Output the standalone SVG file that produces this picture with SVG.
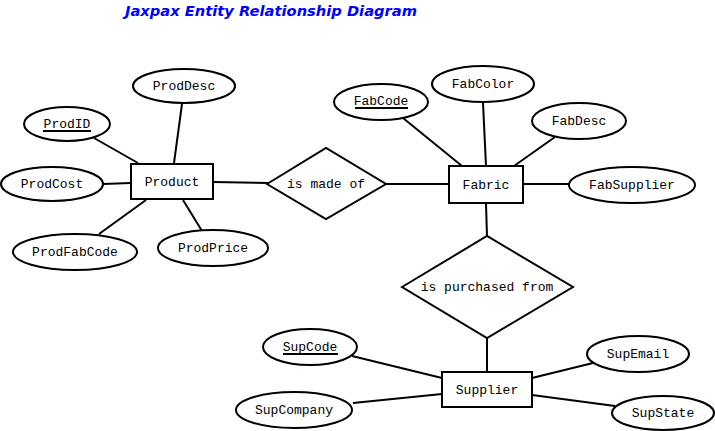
<svg xmlns="http://www.w3.org/2000/svg" width="715" height="431" viewBox="0 0 715 431">
<style>
.e{fill:#fff;stroke:#000;stroke-width:2}
.r{fill:#fff;stroke:#000;stroke-width:2}
.d{fill:#fff;stroke:#000;stroke-width:2}
.t{font-family:"Liberation Mono","Courier New",monospace;font-size:13px;fill:#000;text-anchor:middle}
.u{stroke:#000;stroke-width:2}
#connectors line{stroke:#000;stroke-width:2}
.title{font-family:"DejaVu Sans",Verdana,sans-serif;font-size:14px;font-weight:bold;font-style:italic;fill:#0000ff}
</style>
<rect width="715" height="431" fill="#fff"/>
<text class="title" x="125" y="16" textLength="292" lengthAdjust="spacingAndGlyphs">Jaxpax Entity Relationship Diagram</text>
<g id="connectors">
<line x1="182" y1="104" x2="174" y2="163"/>
<line x1="94" y1="138" x2="138" y2="163"/>
<line x1="103" y1="184" x2="131" y2="183"/>
<line x1="99" y1="234" x2="146" y2="200"/>
<line x1="202" y1="231" x2="183" y2="200"/>
<line x1="213" y1="182" x2="268" y2="183"/>
<line x1="386" y1="184" x2="449" y2="184"/>
<line x1="403" y1="118" x2="462" y2="166"/>
<line x1="483" y1="103" x2="486" y2="166"/>
<line x1="555" y1="137" x2="514" y2="166"/>
<line x1="523" y1="184" x2="569" y2="184"/>
<line x1="486" y1="203" x2="487" y2="237"/>
<line x1="487" y1="338" x2="487" y2="372"/>
<line x1="352" y1="356" x2="442" y2="378"/>
<line x1="353" y1="403" x2="442" y2="394"/>
<line x1="593" y1="363" x2="532" y2="378"/>
<line x1="615" y1="406" x2="532" y2="395"/>
</g>
<g id="Product"><rect class="r" x="131" y="164" width="82" height="35"/><text class="t" x="172" y="186">Product</text></g>
<g id="ProdDesc"><ellipse class="e" cx="184" cy="86" rx="51" ry="17"/><text class="t" x="184" y="90">ProdDesc</text></g>
<g id="ProdID"><ellipse class="e" cx="67" cy="124" rx="43" ry="17"/><text class="t" x="67" y="128">ProdID</text><line class="u" x1="43" y1="131" x2="91" y2="131"/></g>
<g id="ProdCost"><ellipse class="e" cx="52" cy="184" rx="51" ry="17"/><text class="t" x="52" y="188">ProdCost</text></g>
<g id="ProdFabCode"><ellipse class="e" cx="75" cy="252" rx="62" ry="18"/><text class="t" x="75" y="256">ProdFabCode</text></g>
<g id="ProdPrice"><ellipse class="e" cx="213" cy="248" rx="55" ry="18"/><text class="t" x="213" y="252">ProdPrice</text></g>
<g id="isMadeOf"><polygon class="d" points="267,184 326,148 386,184 326,219"/><text class="t" x="326" y="188">is made of</text></g>
<g id="Fabric"><rect class="r" x="449" y="166" width="74" height="37"/><text class="t" x="486" y="189">Fabric</text></g>
<g id="FabCode"><ellipse class="e" cx="381" cy="102" rx="47" ry="18"/><text class="t" x="381" y="105">FabCode</text><line class="u" x1="355" y1="108" x2="408" y2="108"/></g>
<g id="FabColor"><ellipse class="e" cx="483" cy="84" rx="51" ry="18"/><text class="t" x="483" y="88">FabColor</text></g>
<g id="FabDesc"><ellipse class="e" cx="579" cy="121" rx="47" ry="18"/><text class="t" x="579" y="125">FabDesc</text></g>
<g id="FabSupplier"><ellipse class="e" cx="632" cy="185" rx="63" ry="18"/><text class="t" x="632" y="189">FabSupplier</text></g>
<g id="isPurchasedFrom"><polygon class="d" points="402,287 487,236 573,287 487,338"/><text class="t" x="487" y="291">is purchased from</text></g>
<g id="Supplier"><rect class="r" x="442" y="372" width="90" height="35"/><text class="t" x="487" y="394">Supplier</text></g>
<g id="SupCode"><ellipse class="e" cx="310" cy="347" rx="47" ry="18"/><text class="t" x="310" y="351">SupCode</text><line class="u" x1="283" y1="354" x2="338" y2="354"/></g>
<g id="SupCompany"><ellipse class="e" cx="294" cy="410" rx="58" ry="18"/><text class="t" x="294" y="414">SupCompany</text></g>
<g id="SupEmail"><ellipse class="e" cx="638" cy="354" rx="51" ry="18"/><text class="t" x="638" y="358">SupEmail</text></g>
<g id="SupState"><ellipse class="e" cx="663" cy="413" rx="51" ry="17"/><text class="t" x="663" y="417">SupState</text></g>
</svg>
